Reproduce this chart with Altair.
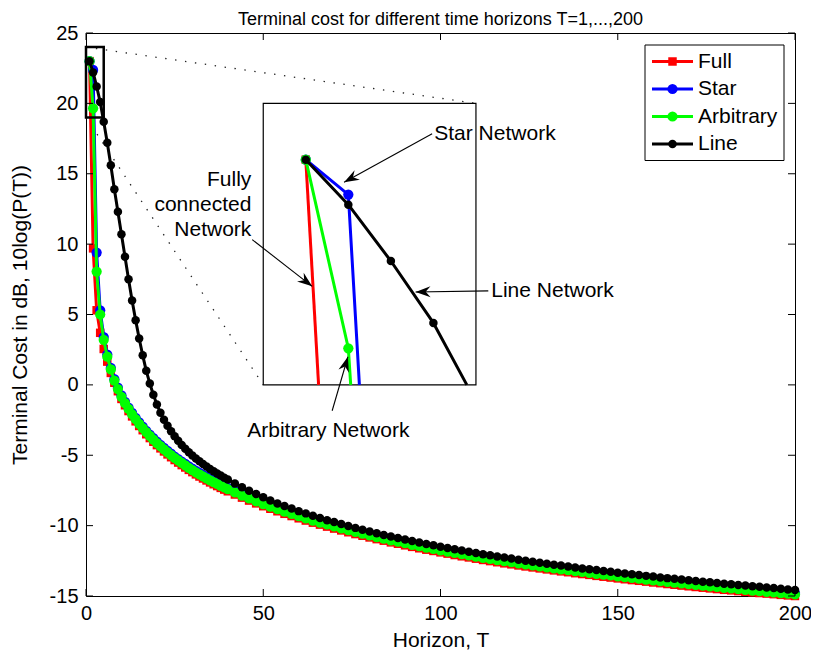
import math
import altair as alt
import pandas as pd

# ---------------- data ----------------
T = list(range(1, 41)) + list(range(42, 201, 2))

full = [23.0, 9.7, 5.3, 3.7, 2.55, 1.65, 0.85, 0.15, -0.45, -1.0,
        -1.45, -1.86, -2.24, -2.59, -2.92, -3.22, -3.51, -3.78, -4.04, -4.28,
        -4.51, -4.73, -4.94, -5.14, -5.34, -5.52, -5.70, -5.87, -6.04, -6.20,
        -6.36, -6.51, -6.65, -6.79, -6.93, -7.06, -7.19, -7.32, -7.44, -7.56,
        -7.79, -8.01, -8.22, -8.42, -8.62, -8.80, -8.98, -9.16, -9.32, -9.48,
        -9.64, -9.79, -9.93, -10.07, -10.21, -10.34, -10.47, -10.60, -10.72, -10.84,
        -10.96, -11.07, -11.19, -11.29, -11.40, -11.51, -11.61, -11.71, -11.80, -11.90,
        -11.99, -12.09, -12.18, -12.26, -12.35, -12.44, -12.52, -12.60, -12.68, -12.75,
        -12.83, -12.90, -12.97, -13.04, -13.11, -13.18, -13.25, -13.31, -13.38, -13.44,
        -13.50, -13.57, -13.63, -13.69, -13.75, -13.81, -13.87, -13.92, -13.98, -14.04,
        -14.09, -14.15, -14.20, -14.26, -14.31, -14.36, -14.41, -14.46, -14.51, -14.56,
        -14.60, -14.65, -14.70, -14.74, -14.79, -14.83, -14.87, -14.92, -14.96, -15.0]

star = [23.0, 22.38, 9.4, 5.3, 3.4, 2.15, 1.2, 0.4, -0.2, -0.75,
        -1.20, -1.61, -1.99, -2.34, -2.67, -2.97, -3.26, -3.53, -3.79, -4.03,
        -4.26, -4.48, -4.69, -4.89, -5.09, -5.27, -5.45, -5.62, -5.79, -5.95,
        -6.11, -6.26, -6.40, -6.54, -6.68, -6.81, -6.94, -7.07, -7.19, -7.31,
        -7.54, -7.76, -7.97, -8.17, -8.37, -8.55, -8.73, -8.91, -9.07, -9.23,
        -9.39, -9.54, -9.68, -9.82, -9.96, -10.09, -10.22, -10.35, -10.47, -10.59,
        -10.71, -10.82, -10.94, -11.04, -11.15, -11.26, -11.36, -11.46, -11.55, -11.65,
        -11.74, -11.84, -11.93, -12.01, -12.10, -12.19, -12.27, -12.35, -12.43, -12.50,
        -12.58, -12.65, -12.72, -12.79, -12.86, -12.93, -13.00, -13.06, -13.13, -13.19,
        -13.25, -13.32, -13.38, -13.44, -13.50, -13.56, -13.62, -13.67, -13.73, -13.79,
        -13.84, -13.90, -13.95, -14.01, -14.06, -14.11, -14.16, -14.21, -14.26, -14.32,
        -14.36, -14.41, -14.46, -14.51, -14.56, -14.60, -14.65, -14.70, -14.74, -14.79]

arbitrary = [23.0, 19.65, 8.05, 5.0, 3.2, 2.0, 1.1, 0.3, -0.3, -0.85,
             -1.30, -1.71, -2.09, -2.44, -2.77, -3.07, -3.36, -3.63, -3.89, -4.13,
             -4.36, -4.58, -4.79, -4.99, -5.19, -5.37, -5.55, -5.72, -5.89, -6.05,
             -6.21, -6.36, -6.50, -6.64, -6.78, -6.91, -7.04, -7.17, -7.29, -7.41,
             -7.64, -7.86, -8.07, -8.27, -8.47, -8.65, -8.83, -9.01, -9.17, -9.33,
             -9.49, -9.64, -9.78, -9.92, -10.06, -10.19, -10.32, -10.45, -10.57, -10.69,
             -10.81, -10.92, -11.04, -11.14, -11.25, -11.36, -11.46, -11.56, -11.65, -11.75,
             -11.84, -11.94, -12.03, -12.11, -12.20, -12.29, -12.37, -12.45, -12.53, -12.60,
             -12.68, -12.75, -12.82, -12.89, -12.96, -13.03, -13.10, -13.16, -13.23, -13.29,
             -13.35, -13.42, -13.48, -13.54, -13.60, -13.66, -13.72, -13.77, -13.83, -13.89,
             -13.94, -14.00, -14.05, -14.11, -14.16, -14.21, -14.26, -14.31, -14.36, -14.42,
             -14.46, -14.51, -14.56, -14.61, -14.66, -14.70, -14.75, -14.80, -14.84, -14.89]

line_net = [23.0, 22.2, 21.2, 20.1, 18.7, 17.2, 15.6, 13.9, 12.3, 10.7,
            9.1, 7.5, 6.0, 4.6, 3.3, 2.1, 1.0, 0.1, -0.7, -1.4,
            -1.98, -2.47, -2.90, -3.29, -3.65, -3.97, -4.27, -4.54, -4.79, -5.02,
            -5.23, -5.43, -5.62, -5.80, -5.97, -6.13, -6.29, -6.44, -6.59, -6.73,
            -7.01, -7.27, -7.52, -7.76, -7.99, -8.21, -8.42, -8.61, -8.79, -8.97,
            -9.13, -9.30, -9.45, -9.61, -9.75, -9.89, -10.03, -10.16, -10.29, -10.42,
            -10.54, -10.66, -10.77, -10.88, -10.99, -11.10, -11.20, -11.30, -11.40, -11.50,
            -11.59, -11.68, -11.77, -11.86, -11.94, -12.03, -12.11, -12.19, -12.27, -12.34,
            -12.42, -12.49, -12.57, -12.64, -12.71, -12.78, -12.84, -12.91, -12.97, -13.04,
            -13.10, -13.16, -13.22, -13.28, -13.34, -13.40, -13.46, -13.51, -13.57, -13.62,
            -13.68, -13.73, -13.78, -13.83, -13.88, -13.93, -13.98, -14.03, -14.08, -14.13,
            -14.17, -14.22, -14.26, -14.31, -14.35, -14.40, -14.44, -14.48, -14.53, -14.57]

SERIES = ["Full", "Star", "Arbitrary", "Line"]
VALUES = [full, star, arbitrary, line_net]
COLORS = ["#ff0000", "#0000ff", "#00ff00", "#000000"]
SHAPES = ["square", "circle", "circle", "circle"]
MSIZE = [72, 105, 105, 72]

X_TICKS = [0, 50, 100, 150, 200]
Y_TICKS = [-15, -10, -5, 0, 5, 10, 15, 20, 25]
X_DOMAIN = [0, 200]
Y_DOMAIN = [-15, 25]
ZOOM_T = [0, 5]          # zoomed region of the data
ZOOM_V = [19, 24]
INSET_T = [50, 110]      # where the inset sits, in main-axis units
INSET_V = [0, 20]

TITLE = "Terminal cost for different time horizons T=1,...,200"
XLABEL = "Horizon, T"
YLABEL = "Terminal Cost in dB, 10log(P(T))"

ANN_TEXTS = [  # text, T, value (inset units), align, baseline
    ("Star Network", 4.02, 23.46, "left", "middle"),
    ("Fully", -0.28, 22.53, "right", "alphabetic"),
    ("connected", -0.28, 22.09, "right", "alphabetic"),
    ("Network", -0.28, 21.64, "right", "alphabetic"),
    ("Line Network", 5.36, 20.67, "left", "middle"),
    ("Arbitrary Network", 1.53, 18.07, "center", "alphabetic"),
]
ANN_ARROWS = [  # tail T, tail value, tip T, tip value (inset units)
    (3.97, 23.46, 1.90, 22.60),
    (-0.26, 21.58, 1.15, 20.75),
    (5.29, 20.67, 3.58, 20.65),
    (1.62, 18.54, 1.99, 19.50),
]

# ---------------- layout / style ----------------
FONT = "Liberation Sans"
FS = 21
TFS = 20   # tick labels
W, H = 709, 563
TICK = 7

def px_x(t):
    return (t - X_DOMAIN[0]) / (X_DOMAIN[1] - X_DOMAIN[0]) * W

def px_y(v):
    return (Y_DOMAIN[1] - v) / (Y_DOMAIN[1] - Y_DOMAIN[0]) * H

IX_RANGE = [px_x(INSET_T[0]), px_x(INSET_T[1])]
IY_RANGE = [px_y(INSET_V[0]), px_y(INSET_V[1])]
PX_T = (IX_RANGE[1] - IX_RANGE[0]) / (ZOOM_T[1] - ZOOM_T[0])
PX_V = (IY_RANGE[0] - IY_RANGE[1]) / (ZOOM_V[1] - ZOOM_V[0])

def xs():
    return alt.Scale(domain=X_DOMAIN, nice=False, zero=False)

def ys():
    return alt.Scale(domain=Y_DOMAIN, nice=False, zero=False)

def ixs():
    return alt.Scale(domain=ZOOM_T, range=IX_RANGE, nice=False, zero=False)

def iys():
    return alt.Scale(domain=ZOOM_V, range=IY_RANGE, nice=False, zero=False)

x_axis = alt.Axis(values=X_TICKS, title=XLABEL, domain=False, ticks=False, tickSize=0,
                  grid=False, labelFont=FONT, labelFontSize=TFS, labelColor="black",
                  labelPadding=7, labelFlush=False, labelOverlap=False, orient="bottom",
                  titleFont=FONT, titleFontSize=FS, titleFontWeight="normal",
                  titleColor="black", titleY=44, titleBaseline="middle")
y_axis = alt.Axis(values=Y_TICKS, title=YLABEL, domain=False, ticks=False, tickSize=0,
                  grid=False, labelFont=FONT, labelFontSize=TFS, labelColor="black",
                  labelPadding=8, labelFlush=False, labelOverlap=False, orient="left",
                  labelExpr="datum.value",
                  titleFont=FONT, titleFontSize=FS, titleFontWeight="normal",
                  titleColor="black", titleX=-66, titleY=H / 2, titleAngle=270,
                  titleAlign="center", titleBaseline="middle")

layers = []
one = pd.DataFrame({"k": [0]})

# ---------------- main panel ----------------
conn = pd.DataFrame({
    "x1": [ZOOM_T[0], ZOOM_T[0]], "y1": [ZOOM_V[1], ZOOM_V[0]],
    "x2": [INSET_T[1], INSET_T[0]], "y2": [INSET_V[1], INSET_V[0]],
})
layers.append(
    alt.Chart(conn).mark_rule(color="#222222", strokeWidth=1.3, strokeDash=[1.4, 8.6])
    .encode(x=alt.X("x1:Q", scale=xs(), axis=x_axis), x2="x2:Q",
            y=alt.Y("y1:Q", scale=ys(), axis=y_axis), y2="y2:Q")
)

for name, vals, col, shp, ms in zip(SERIES, VALUES, COLORS, SHAPES, MSIZE):
    assert len(vals) == len(T), name
    d = pd.DataFrame({"T": T, "v": vals})
    layers.append(
        alt.Chart(d).mark_line(color=col, strokeWidth=3, strokeJoin="round")
        .encode(x=alt.X("T:Q", scale=xs(), axis=None), y=alt.Y("v:Q", scale=ys(), axis=None))
    )
    layers.append(
        alt.Chart(d).mark_point(color=col, filled=True, opacity=1, shape=shp, size=ms)
        .encode(x=alt.X("T:Q", scale=xs(), axis=None), y=alt.Y("v:Q", scale=ys(), axis=None))
    )

zoom_box = pd.DataFrame({"a": [ZOOM_T[0]], "b": [ZOOM_T[1]], "c": [ZOOM_V[0]], "d": [ZOOM_V[1]]})
layers.append(
    alt.Chart(zoom_box).mark_rect(fillOpacity=0, stroke="black", strokeWidth=2.5)
    .encode(x=alt.X("a:Q", scale=xs(), axis=None), x2="b:Q",
            y=alt.Y("c:Q", scale=ys(), axis=None), y2="d:Q")
)

xt = pd.DataFrame({"tx": X_TICKS})
yt = pd.DataFrame({"ty": Y_TICKS})
layers += [
    alt.Chart(xt).mark_rule(color="black", strokeWidth=1)
    .encode(x=alt.X("tx:Q", scale=xs(), axis=None), y=alt.value(H), y2=alt.value(H - TICK)),
    alt.Chart(xt).mark_rule(color="black", strokeWidth=1)
    .encode(x=alt.X("tx:Q", scale=xs(), axis=None), y=alt.value(0), y2=alt.value(TICK)),
    alt.Chart(yt).mark_rule(color="black", strokeWidth=1)
    .encode(y=alt.Y("ty:Q", scale=ys(), axis=None), x=alt.value(0), x2=alt.value(TICK)),
    alt.Chart(yt).mark_rule(color="black", strokeWidth=1)
    .encode(y=alt.Y("ty:Q", scale=ys(), axis=None), x=alt.value(W), x2=alt.value(W - TICK)),
]

# chart title (placed as text so it stays inside the page)
layers.append(
    alt.Chart(one).mark_text(font=FONT, fontSize=18, color="black", align="center",
                             baseline="alphabetic", text=TITLE)
    .encode(x=alt.value(W / 2), y=alt.value(-8))
)

# ---------------- inset panel ----------------
def clip_path(ts, vs):
    """Part of a polyline inside the zoom window (cut where it leaves)."""
    pts = []
    for i, (t, v) in enumerate(zip(ts, vs)):
        inside = ZOOM_T[0] <= t <= ZOOM_T[1] and ZOOM_V[0] <= v <= ZOOM_V[1]
        if inside:
            pts.append((t, v))
            continue
        if i > 0 and pts:
            tp, vp = ts[i - 1], vs[i - 1]
            s = 1.0
            if v < ZOOM_V[0]:
                s = min(s, (vp - ZOOM_V[0]) / (vp - v))
            if t > ZOOM_T[1]:
                s = min(s, (ZOOM_T[1] - tp) / (t - tp))
            pts.append((tp + s * (t - tp), vp + s * (v - vp)))
        break
    return pts

ibox = pd.DataFrame({"a": [ZOOM_T[0]], "b": [ZOOM_T[1]], "c": [ZOOM_V[0]], "d": [ZOOM_V[1]]})
layers.append(
    alt.Chart(ibox).mark_rect(fill="white", stroke="black", strokeWidth=1.2)
    .encode(x=alt.X("a:Q", scale=ixs(), axis=None), x2="b:Q",
            y=alt.Y("c:Q", scale=iys(), axis=None), y2="d:Q")
)
for name, vals, col, shp, ms in zip(SERIES, VALUES, COLORS, SHAPES, MSIZE):
    path = clip_path(T[:8], vals[:8])
    dpath = pd.DataFrame({"T": [p[0] for p in path], "v": [p[1] for p in path],
                          "o": list(range(len(path)))})
    keep = [(t, v) for t, v in zip(T[:8], vals[:8])
            if ZOOM_T[0] <= t <= ZOOM_T[1] and ZOOM_V[0] <= v <= ZOOM_V[1]]
    dpts = pd.DataFrame({"T": [k[0] for k in keep], "v": [k[1] for k in keep]})
    layers.append(
        alt.Chart(dpath).mark_line(color=col, strokeWidth=3, strokeJoin="round")
        .encode(x=alt.X("T:Q", scale=ixs(), axis=None), y=alt.Y("v:Q", scale=iys(), axis=None),
                order="o:Q")
    )
    layers.append(
        alt.Chart(dpts).mark_point(color=col, filled=True, opacity=1, shape=shp, size=ms)
        .encode(x=alt.X("T:Q", scale=ixs(), axis=None), y=alt.Y("v:Q", scale=iys(), axis=None))
    )

ARROW_PATH = "M0,0 L0.72,2 L0,1.35 L-0.72,2 Z"
for (t0, v0, t1, v1) in ANN_ARROWS:
    dx = (t1 - t0) * PX_T
    dy = -(v1 - v0) * PX_V
    ang = math.degrees(math.atan2(dx, -dy)) % 360
    seg = pd.DataFrame({"t0": [t0], "v0": [v0], "t1": [t1], "v1": [v1]})
    layers.append(
        alt.Chart(seg).mark_rule(color="black", strokeWidth=1.1)
        .encode(x=alt.X("t0:Q", scale=ixs(), axis=None), x2="t1:Q",
                y=alt.Y("v0:Q", scale=iys(), axis=None), y2="v1:Q")
    )
    layers.append(
        alt.Chart(seg).mark_point(shape=ARROW_PATH, angle=ang, size=225, filled=True,
                                  color="black", opacity=1, strokeWidth=0)
        .encode(x=alt.X("t1:Q", scale=ixs(), axis=None), y=alt.Y("v1:Q", scale=iys(), axis=None))
    )

for (txt, t, v, al, bl) in ANN_TEXTS:
    dt = pd.DataFrame({"t": [t], "v": [v], "s": [txt]})
    layers.append(
        alt.Chart(dt).mark_text(font=FONT, fontSize=FS, color="black", align=al, baseline=bl)
        .encode(x=alt.X("t:Q", scale=ixs(), axis=None), y=alt.Y("v:Q", scale=iys(), axis=None),
                text="s:N")
    )

# ---------------- legend ----------------
LBOX = (W - 150, W - 11, 12, 127.5)
ROW0, ROWH = 28.5, 27.5
SAMPLE = (LBOX[0] + 7, LBOX[0] + 48)
TEXT_X = LBOX[0] + 53
layers.append(
    alt.Chart(one).mark_rect(fill="white", stroke="black", strokeWidth=1)
    .encode(x=alt.value(LBOX[0]), x2=alt.value(LBOX[1]), y=alt.value(LBOX[2]), y2=alt.value(LBOX[3]))
)
for i, (name, col, shp, ms) in enumerate(zip(SERIES, COLORS, SHAPES, MSIZE)):
    ry = ROW0 + i * ROWH
    layers += [
        alt.Chart(one).mark_rule(color=col, strokeWidth=3)
        .encode(x=alt.value(SAMPLE[0]), x2=alt.value(SAMPLE[1]), y=alt.value(ry)),
        alt.Chart(one).mark_point(color=col, filled=True, opacity=1, shape=shp, size=ms)
        .encode(x=alt.value((SAMPLE[0] + SAMPLE[1]) / 2), y=alt.value(ry)),
        alt.Chart(one).mark_text(font=FONT, fontSize=FS, color="black", align="left",
                                 baseline="middle", text=name)
        .encode(x=alt.value(TEXT_X), y=alt.value(ry)),
    ]

chart = (
    alt.layer(*layers)
    .resolve_scale(x="independent", y="independent")
    .resolve_axis(x="independent", y="independent")
    .properties(
        width=W, height=H,
        padding={"left": 78, "top": 25, "right": 16, "bottom": 58},
        autosize=alt.AutoSizeParams(type="none"),
        background="white",
    )
    .configure_view(stroke="black", strokeWidth=1)
)

chart.save("out.html", embed_options={"renderer": "svg", "actions": False})
